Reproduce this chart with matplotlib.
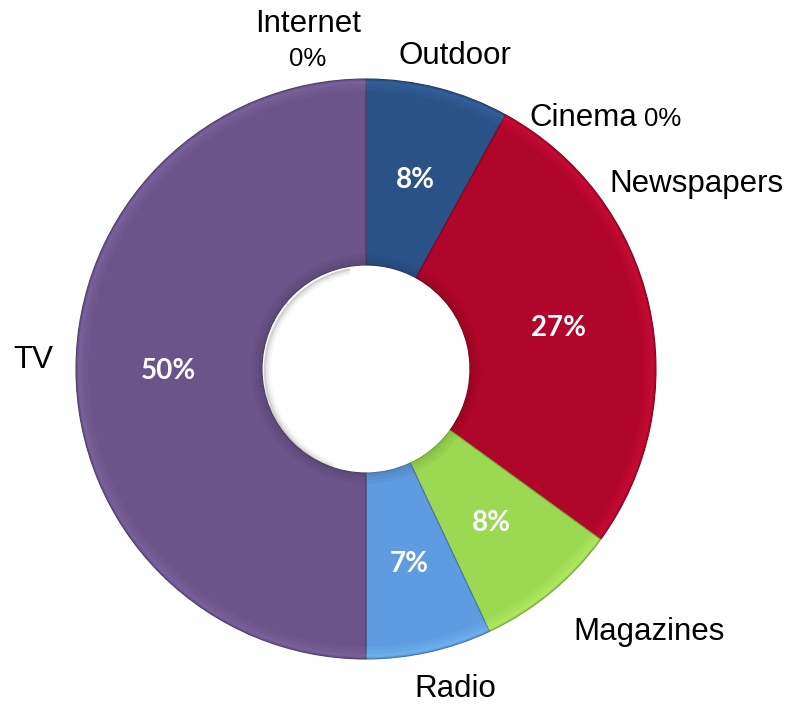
import matplotlib
matplotlib.use("Agg")
import matplotlib.pyplot as plt
import numpy as np

# Media share data (clockwise from 12 o'clock)
categories = ["Outdoor", "Cinema", "Newspapers", "Magazines", "Radio", "TV", "Internet"]
shares = [8, 0, 27, 8, 7, 50, 0]
colors = ["#2A5287", "#B0062A", "#B0062A", "#9BD952", "#5E9BE0", "#6A5489", "#6A5489"]

W, H = 790, 705
CX, CY, R = 366, 369, 290        # centre and outer radius in pixels
RING = 1 - 104 / 290             # ring width as a fraction of the radius

fig = plt.figure(figsize=(W / 100, H / 100), dpi=100)
ax = fig.add_axes([0, 0, 1, 1])


def px(x, y):
    """Pixel position (origin top-left) to data coordinates."""
    return (x - CX) / R, (CY - y) / R


def darker(c, f=0.8):
    rgb = np.array(matplotlib.colors.to_rgb(c))
    return tuple(rgb * f)


def pct(v):
    return f"{v:.0f}%" if v >= 0.5 else ""


wedges, _, autotexts = ax.pie(
    shares, colors=colors, startangle=90, counterclock=False,
    radius=1.0, autopct=pct, pctdistance=0.68,
    wedgeprops=dict(width=RING, linewidth=0.8),
    textprops=dict(color="white", fontsize=20, fontweight="bold", family="Lato"),
)
for w, c in zip(wedges, colors):
    w.set_edgecolor(darker(c, 0.75))
for t in autotexts:
    t.set_va("center_baseline")

ax.set_xlim(-CX / R, (W - CX) / R)
ax.set_ylim(-(H - CY) / R, CY / R)
ax.set_aspect("equal")
ax.axis("off")

# Soft bevel highlight along the outer and inner rims of each wedge
for w, c in zip(wedges, colors):
    t1, t2 = w.theta1, w.theta2
    if t2 - t1 < 0.1:
        continue
    light = tuple(np.clip(np.array(matplotlib.colors.to_rgb(c)) * 1.25 + 0.05, 0, 1))
    for k, a in enumerate([0.35, 0.22, 0.12]):
        d = 0.012 * (k + 1)
        ax.add_patch(matplotlib.patches.Wedge((0, 0), 1 - d + 0.006, t1, t2, width=0.012,
                                              facecolor=light, edgecolor="none", alpha=a))
        ax.add_patch(matplotlib.patches.Wedge((0, 0), 1 - RING + d, t1, t2, width=0.012,
                                              facecolor=darker(c, 0.7), edgecolor="none", alpha=a))

# Faint shadow just inside the hole, upper-left side
hole = 1 - RING
for k, a in enumerate([0.14, 0.08, 0.04]):
    ax.add_patch(matplotlib.patches.Wedge((0.006, -0.006), hole, 100, 250, width=0.008 * (k + 1),
                                          facecolor="#404040", edgecolor="none", alpha=a))

name_font = dict(fontsize=22.5, family="Liberation Sans", color="black")
small_font = dict(fontsize=18.5, family="Liberation Sans", color="black")

# Category name labels placed around the ring (x, baseline y, alignment)
name_pos = {
    "Outdoor": (455, 64, "center"),
    "Cinema": (529, 126, "left"),
    "Newspapers": (609, 192, "left"),
    "Magazines": (573, 640, "left"),
    "Radio": (455, 697, "center"),
    "TV": (33, 368, "center"),
    "Internet": (308, 32, "center"),
}
for name in categories:
    x, y, ha = name_pos[name]
    ax.text(*px(x, y), name, ha=ha, va="baseline", **name_font)

# Zero-share values written beside their names
zero_pos = {"Cinema": (644, 126, "left"), "Internet": (308, 66, "center")}
for name, v in zip(categories, shares):
    if name in zero_pos:
        x, y, ha = zero_pos[name]
        ax.text(*px(x, y), f"{v}%", ha=ha, va="baseline", **small_font)

fig.savefig("out.png", dpi=100)
